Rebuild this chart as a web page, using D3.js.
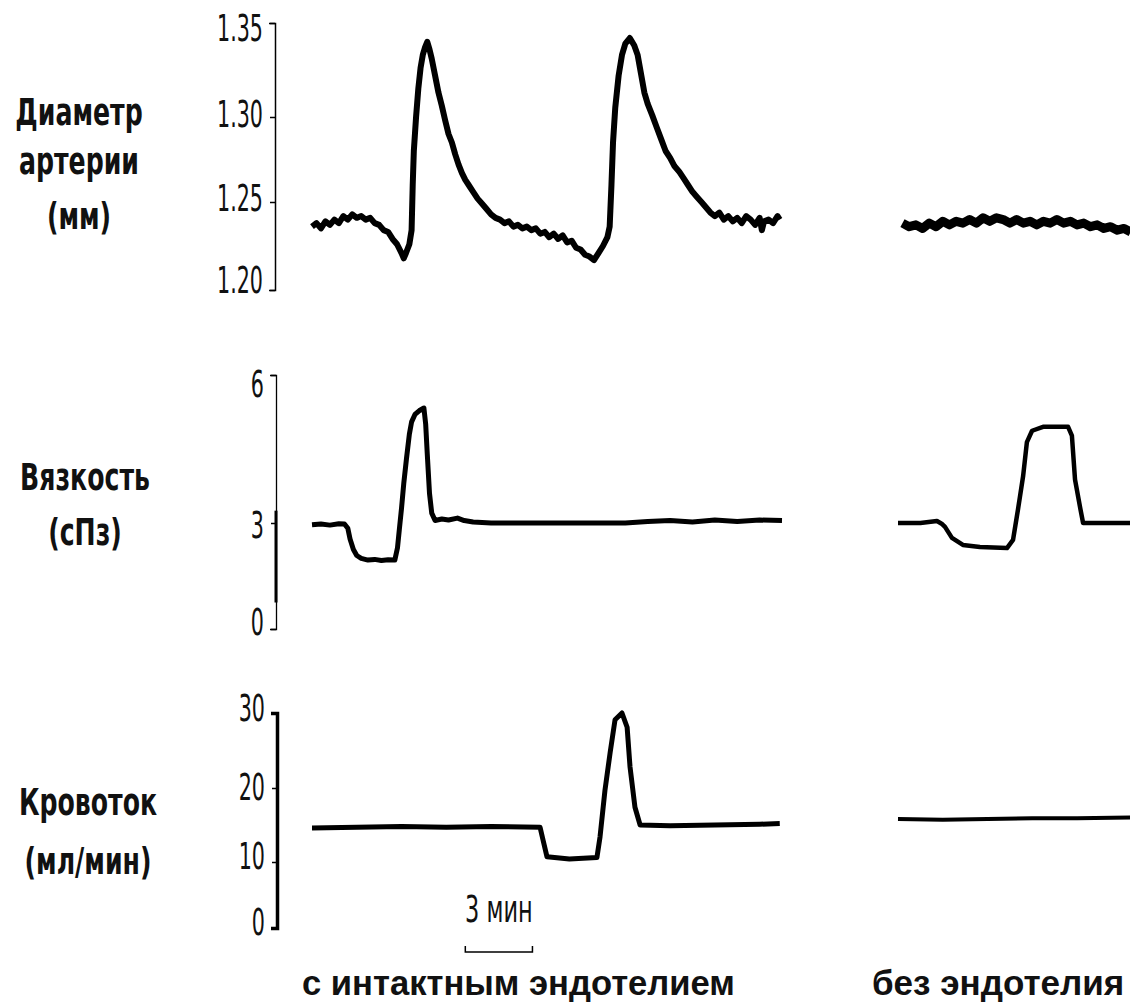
<!DOCTYPE html>
<html>
<head>
<meta charset="utf-8">
<script src="https://cdn.jsdelivr.net/npm/d3@7"></script>
<style>
  html, body { margin: 0; padding: 0; background: #fff; }
  svg { display: block; }
</style>
</head>
<body>
<svg id="chart" width="1130" height="1005"></svg>
<script>
// ---------- DATA ----------
const rowLabels = [
  ["Диаметр", "артерии", "(мм)"],
  ["Вязкость", "(сПз)"],
  ["Кровоток", "(мл/мин)"]
];
const conditionLabels = ["с интактным эндотелием", "без эндотелия"];
const scaleBarLabel = "3 мин";
const scaleBarMinutes = [6.85, 9.85];

const diamTicks = [1.20, 1.25, 1.30, 1.35];
const viscTicks = [0, 3, 6];
const flowTicks = [0, 10, 20, 30];

// [time (min), diameter (mm)]
const diameterIntact = [
  [0.0,1.236],[0.2,1.238],[0.4,1.235],[0.6,1.239],[0.8,1.237],[1.0,1.240],[1.2,1.238],[1.4,1.242],
  [1.6,1.240],[1.8,1.243],[2.0,1.241],[2.2,1.242],[2.4,1.240],[2.6,1.241],[2.8,1.238],[3.0,1.237],
  [3.2,1.234],[3.4,1.233],[3.6,1.229],[3.8,1.226],[4.0,1.221],[4.1,1.218],[4.2,1.221],[4.35,1.226],
  [4.45,1.234],[4.5,1.260],[4.55,1.280],[4.65,1.300],[4.75,1.315],[4.85,1.326],[4.95,1.333],[5.05,1.337],
  [5.15,1.340],[5.25,1.336],[5.35,1.331],[5.5,1.322],[5.65,1.313],[5.8,1.306],[5.95,1.298],[6.1,1.290],
  [6.25,1.285],[6.4,1.278],[6.55,1.272],[6.7,1.267],[6.85,1.263],[7.0,1.260],[7.2,1.256],[7.4,1.252],
  [7.6,1.249],[7.8,1.246],[8.0,1.243],[8.2,1.241],[8.4,1.240],[8.6,1.238],[8.8,1.239],[9.0,1.236],
  [9.2,1.237],[9.4,1.235],[9.6,1.236],[9.8,1.234],[10.0,1.235],[10.2,1.232],[10.4,1.233],[10.6,1.230],
  [10.8,1.232],[11.0,1.229],[11.2,1.231],[11.4,1.227],[11.6,1.228],[11.8,1.224],[12.0,1.223],[12.2,1.220],
  [12.4,1.219],[12.6,1.217],[12.8,1.221],[13.0,1.225],[13.2,1.230],[13.3,1.236],[13.38,1.260],[13.45,1.285],
  [13.55,1.305],[13.7,1.322],[13.85,1.333],[14.0,1.339],[14.2,1.342],[14.4,1.338],[14.55,1.333],[14.7,1.323],
  [14.85,1.313],[15.0,1.307],[15.2,1.301],[15.4,1.294],[15.6,1.287],[15.8,1.280],[16.0,1.276],[16.2,1.271],
  [16.4,1.268],[16.6,1.264],[16.8,1.260],[17.0,1.256],[17.2,1.253],[17.4,1.250],[17.6,1.247],[17.8,1.244],
  [18.0,1.242],[18.2,1.244],[18.4,1.240],[18.6,1.242],[18.8,1.239],[19.0,1.241],[19.2,1.238],[19.4,1.242],
  [19.6,1.240],[19.8,1.237],[20.0,1.241],[20.1,1.234],[20.2,1.239],[20.4,1.240],[20.6,1.238],[20.8,1.242],
  [20.9,1.240]
];
const diameterDenuded = [
  [0.2,1.238],[0.5,1.236],[0.8,1.237],[1.1,1.235],[1.4,1.238],[1.7,1.236],[2.0,1.239],[2.3,1.237],
  [2.6,1.239],[2.9,1.238],[3.2,1.240],[3.5,1.238],[3.8,1.241],[4.1,1.239],[4.4,1.241],[4.7,1.240],
  [5.0,1.238],[5.3,1.240],[5.6,1.238],[5.9,1.239],[6.2,1.237],[6.5,1.239],[6.8,1.238],[7.1,1.240],
  [7.4,1.238],[7.7,1.239],[8.0,1.237],[8.3,1.238],[8.6,1.236],[8.9,1.237],[9.2,1.235],[9.5,1.236],
  [9.8,1.234],[10.1,1.235],[10.4,1.233]
];

// [time (min), viscosity (cP)]
const viscosityIntact = [
  [0.0,2.95],[0.4,2.97],[0.8,2.94],[1.2,2.98],[1.45,2.97],[1.6,2.85],[1.7,2.55],[1.85,2.25],
  [2.0,2.08],[2.2,2.0],[2.5,1.95],[2.8,1.97],[3.1,1.94],[3.4,1.96],[3.7,1.95],[3.82,2.3],
  [3.9,2.8],[4.0,3.3],[4.1,3.8],[4.22,4.3],[4.35,4.8],[4.45,5.05],[4.6,5.2],[4.8,5.28],
  [5.0,5.33],[5.08,5.0],[5.15,4.4],[5.25,3.6],[5.35,3.2],[5.5,3.05],[5.8,3.08],[6.1,3.06],
  [6.5,3.1],[6.8,3.05],[7.2,3.02],[8.0,3.0],[10.0,3.0],[12.0,3.0],[14.0,3.0],[15.0,3.03],
  [16.0,3.05],[17.0,3.02],[18.0,3.06],[19.0,3.03],[20.0,3.06],[21.0,3.05]
];
const viscosityDenuded = [
  [0.0,3.0],[1.0,3.0],[1.74,3.04],[1.95,2.98],[2.1,2.89],[2.41,2.58],[2.9,2.38],[3.66,2.32],
  [4.87,2.29],[5.14,2.52],[5.36,3.27],[5.59,3.95],[5.76,4.64],[5.99,4.87],[6.48,4.95],[7.6,4.95],
  [7.77,4.77],[7.91,3.88],[8.13,3.33],[8.27,3.0],[9.3,3.0],[10.5,3.0]
];

// [time (min), flow (ml/min)]
const flowIntact = [
  [0.0,14.6],[2.0,14.7],[4.0,14.8],[6.0,14.7],[8.0,14.8],[10.19,14.7],[10.32,13.0],[10.5,10.7],
  [11.5,10.4],[12.73,10.6],[12.87,13.4],[13.09,19.7],[13.32,24.7],[13.54,29.1],[13.85,30.0],
  [14.08,28.1],[14.21,22.8],[14.43,17.4],[14.66,15.0],[16.0,14.9],[18.0,15.0],[20.0,15.1],[20.9,15.2]
];
const flowDenuded = [
  [0.0,15.8],[2.0,15.7],[4.0,15.8],[6.0,15.9],[8.0,15.9],[10.4,16.0]
];

// ---------- DRAWING ----------
const svg = d3.select("#chart");

const xLeft = d3.scaleLinear().domain([0, 21]).range([312, 782]);
const xRight = d3.scaleLinear().domain([0, 10.5]).range([898, 1133]);

const yDiam = d3.scaleLinear().domain(diamTicks).range([290, 202, 117, 23]);
const yVisc = d3.scaleLinear().domain(viscTicks).range([629, 523, 375]);
const yFlow = d3.scaleLinear().domain(flowTicks).range([928, 862, 788, 713]);

const narrow = "'Liberation Sans Narrow', 'Arial Narrow', 'DejaVu Sans Condensed', sans-serif";
const bold = "'Liberation Sans', Arial, sans-serif";

function drawAxis(x, scale, ticks, fmt, strokeW, labelShift) {
  const g = svg.append("g").attr("transform", `translate(${x},0)`)
    .call(d3.axisLeft(scale).tickValues(ticks).tickFormat(fmt).tickSize(5).tickSizeOuter(6).tickPadding(7));
  g.select(".domain").attr("stroke", "#000").attr("stroke-width", strokeW).attr("fill", "none");
  g.selectAll(".tick line").attr("stroke", "#000").attr("stroke-width", 1.5);
  g.selectAll(".tick text")
    .attr("fill", "#111")
    .attr("font-family", narrow)
    .attr("font-size", 28)
    .attr("x", 0)
    .attr("transform", (d, i) => `translate(-12,${labelShift[i] || 0}) scale(0.82,1.3)`);
  return g;
}

drawAxis(275, yDiam, diamTicks, d3.format(".2f"), 1.5, [-9, -3, -2, 6]);
drawAxis(276, yVisc, viscTicks, d3.format("d"), 1.3, [-6, 3, 10]);
// thicker portion of the viscosity axis, as in the original
svg.append("line").attr("x1", 276).attr("x2", 276)
  .attr("y1", yVisc(3.25)).attr("y2", yVisc(0.75))
  .attr("stroke", "#000").attr("stroke-width", 3);
drawAxis(277, yFlow, flowTicks, d3.format("d"), 3.5, [-5, -5, 0, -4]);

function trace(data, xs, ys, w) {
  svg.append("path")
    .datum(data)
    .attr("fill", "none")
    .attr("stroke", "#000")
    .attr("stroke-width", w)
    .attr("stroke-linejoin", "round")
    .attr("stroke-linecap", "butt")
    .attr("d", d3.line().x(d => xs(d[0])).y(d => ys(d[1])));
}

trace(diameterIntact, xLeft, yDiam, 6);
trace(diameterDenuded, xRight, yDiam, 9);
trace(viscosityIntact, xLeft, yVisc, 5);
trace(viscosityDenuded, xRight, yVisc, 4.5);
trace(flowIntact, xLeft, yFlow, 5);
trace(flowDenuded, xRight, yFlow, 4);

// Row labels
const rowLabelPos = [
  { x: 79, ys: [125, 174, 229] },
  { x: 85, ys: [490, 545] },
  { x: 88, ys: [815, 874] }
];
rowLabels.forEach((lines, i) => {
  lines.forEach((t, j) => {
    svg.append("text")
      .attr("transform", `translate(${rowLabelPos[i].x},${rowLabelPos[i].ys[j]}) scale(0.8,1.05)`)
      .attr("text-anchor", "middle")
      .attr("font-family", narrow)
      .attr("font-weight", "bold")
      .attr("font-size", 35)
      .attr("fill", "#111")
      .text(t);
  });
});

// Scale bar
const sb0 = xLeft(scaleBarMinutes[0]), sb1 = xLeft(scaleBarMinutes[1]);
svg.append("path")
  .attr("d", `M${sb0},946 V952 H${sb1} V946`)
  .attr("fill", "none").attr("stroke", "#000").attr("stroke-width", 1.5);
svg.append("text")
  .attr("transform", `translate(${(sb0 + sb1) / 2},922) scale(0.86,1.3)`)
  .attr("text-anchor", "middle")
  .attr("font-family", narrow)
  .attr("font-size", 29)
  .attr("fill", "#111")
  .text(scaleBarLabel);

// Condition labels
svg.append("text")
  .attr("x", 302).attr("y", 995)
  .attr("font-family", bold).attr("font-weight", "bold").attr("font-size", 34.6)
  .attr("fill", "#111")
  .text(conditionLabels[0]);
svg.append("text")
  .attr("x", 872).attr("y", 995)
  .attr("font-family", bold).attr("font-weight", "bold").attr("font-size", 35)
  .attr("fill", "#111")
  .text(conditionLabels[1]);
</script>
</body>
</html>
